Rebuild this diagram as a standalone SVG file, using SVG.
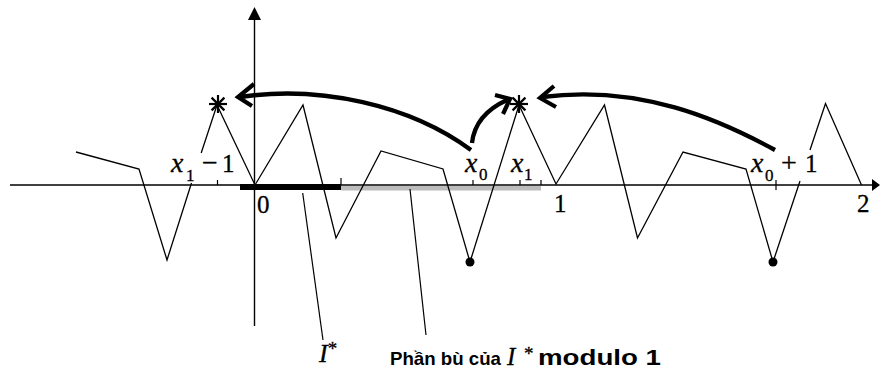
<svg xmlns="http://www.w3.org/2000/svg" width="880" height="371" viewBox="0 0 880 371">
<style>
.ax{stroke:#000;stroke-width:1.4;fill:none}
.fn{stroke:#000;stroke-width:1.3;fill:none;stroke-linejoin:miter}
.tk{stroke:#000;stroke-width:1.2}
.arr{stroke:#000;stroke-width:4.3;fill:none;stroke-linecap:butt}
.ah{stroke:#000;stroke-width:4.2;fill:none;stroke-linejoin:miter;stroke-linecap:butt}
.star{stroke:#000;stroke-width:2.2}
.m{font-family:"Liberation Serif","Times New Roman",serif;font-style:italic;fill:#000;stroke:#000;stroke-width:0.3}
.n{font-family:"Liberation Serif","Times New Roman",serif;fill:#000;stroke:#000;stroke-width:0.3}
.b{font-family:"Liberation Sans",Arial,sans-serif;font-weight:bold;fill:#000}
.ld{stroke:#000;stroke-width:1.2}
</style>
<rect width="880" height="371" fill="#fff"/>
<g id="axes">
  <line class="ax" x1="10" y1="185" x2="872" y2="185"/>
  <polygon points="872,179 880,185 872,191" fill="#000"/>
  <line class="ax" x1="254.5" y1="19" x2="254.5" y2="326"/>
  <polygon points="248,20 254.5,7 261,20" fill="#000"/>
  <line class="tk" x1="217.5" y1="180" x2="217.5" y2="185"/>
  <line class="tk" x1="341" y1="178" x2="341" y2="185"/>
  <line class="tk" x1="473" y1="180" x2="473" y2="185"/>
  <line class="tk" x1="520" y1="180" x2="520" y2="185"/>
  <line class="tk" x1="541" y1="180" x2="541" y2="185"/>
  <line class="tk" x1="776" y1="180" x2="776" y2="190"/>
</g>
<g id="intervals">
  <rect id="I-star" x="240" y="184" width="101" height="6" fill="#000"/>
  <rect id="complement" x="341" y="186" width="200" height="4.5" fill="#bcbcbc"/>
</g>
<g id="graph">
  <polyline class="fn" points="76,152 139,169 167,260 191.5,183"/>
  <polyline class="fn" points="201.2,153 217,105 255,185 303,105 336,238 381,151 443,169 470,262 519,105 556,184 604.5,105 637.5,238 683,152 746,169 773,262 800,181"/>
  <polyline class="fn" points="810,150 825.5,103.5 861.5,185"/>
  <circle cx="470" cy="262" r="4.5" fill="#000"/>
  <circle cx="773" cy="262" r="4.5" fill="#000"/>
</g>
<g id="stars">
  <g id="star-left" class="star">
    <line x1="209" y1="104" x2="227" y2="104"/>
    <line x1="218" y1="95" x2="218" y2="113"/>
    <line x1="211.6" y1="97.6" x2="224.4" y2="110.4"/>
    <line x1="211.6" y1="110.4" x2="224.4" y2="97.6"/>
  </g>
  <g id="star-right" class="star">
    <line x1="510" y1="104" x2="528" y2="104"/>
    <line x1="519" y1="95" x2="519" y2="113"/>
    <line x1="512.6" y1="97.6" x2="525.4" y2="110.4"/>
    <line x1="512.6" y1="110.4" x2="525.4" y2="97.6"/>
  </g>
</g>
<g id="connectors">
  <path class="arr" d="M471,150 C410,105 320,85 240,97"/>
  <polyline class="ah" points="254,84 238,97 252,106"/>
  <path class="arr" d="M472,143 C474,125 485,110 507,100"/>
  <polyline class="ah" points="495,95 510,99 503,114"/>
  <path class="arr" d="M775,150 C720,120 640,84 542,97"/>
  <polyline class="ah" points="554,86 540,98 556,107"/>
  <line class="ld" x1="302.7" y1="193" x2="323" y2="340"/>
  <line class="ld" x1="410" y1="189" x2="426" y2="335"/>
</g>
<g id="labels">
  <text class="m" x="171" y="172" font-size="28">x</text>
  <text class="n" x="186" y="181" font-size="17">1</text>
  <text class="n" x="202" y="172" font-size="28">−</text>
  <text class="n" x="222" y="172" font-size="25">1</text>
  <text class="m" x="465" y="172" font-size="28">x</text>
  <text class="n" x="479" y="180" font-size="17">0</text>
  <text class="m" x="511" y="172" font-size="28">x</text>
  <text class="n" x="524" y="180" font-size="17">1</text>
  <text class="m" x="751" y="172" font-size="28">x</text>
  <text class="n" x="765" y="181" font-size="17">0</text>
  <text class="n" x="781" y="172" font-size="28">+</text>
  <text class="n" x="805" y="172" font-size="25">1</text>
  <text class="n" x="257" y="213" font-size="25">0</text>
  <text class="n" x="554" y="212" font-size="25">1</text>
  <text class="n" x="857" y="212" font-size="25">2</text>
  <text class="m" x="319" y="362" font-size="26">I<tspan font-style="normal" font-size="19" dy="-7">*</tspan></text>
  <text class="b" x="390" y="365" font-size="19" textLength="111" lengthAdjust="spacingAndGlyphs">Phần bù của</text>
  <text class="m" x="507" y="365" font-size="25">I</text>
  <text class="n" x="524" y="360" font-size="19">*</text>
  <text class="b" x="538" y="365" font-size="22" textLength="123" lengthAdjust="spacingAndGlyphs">modulo 1</text>
</g>
</svg>
